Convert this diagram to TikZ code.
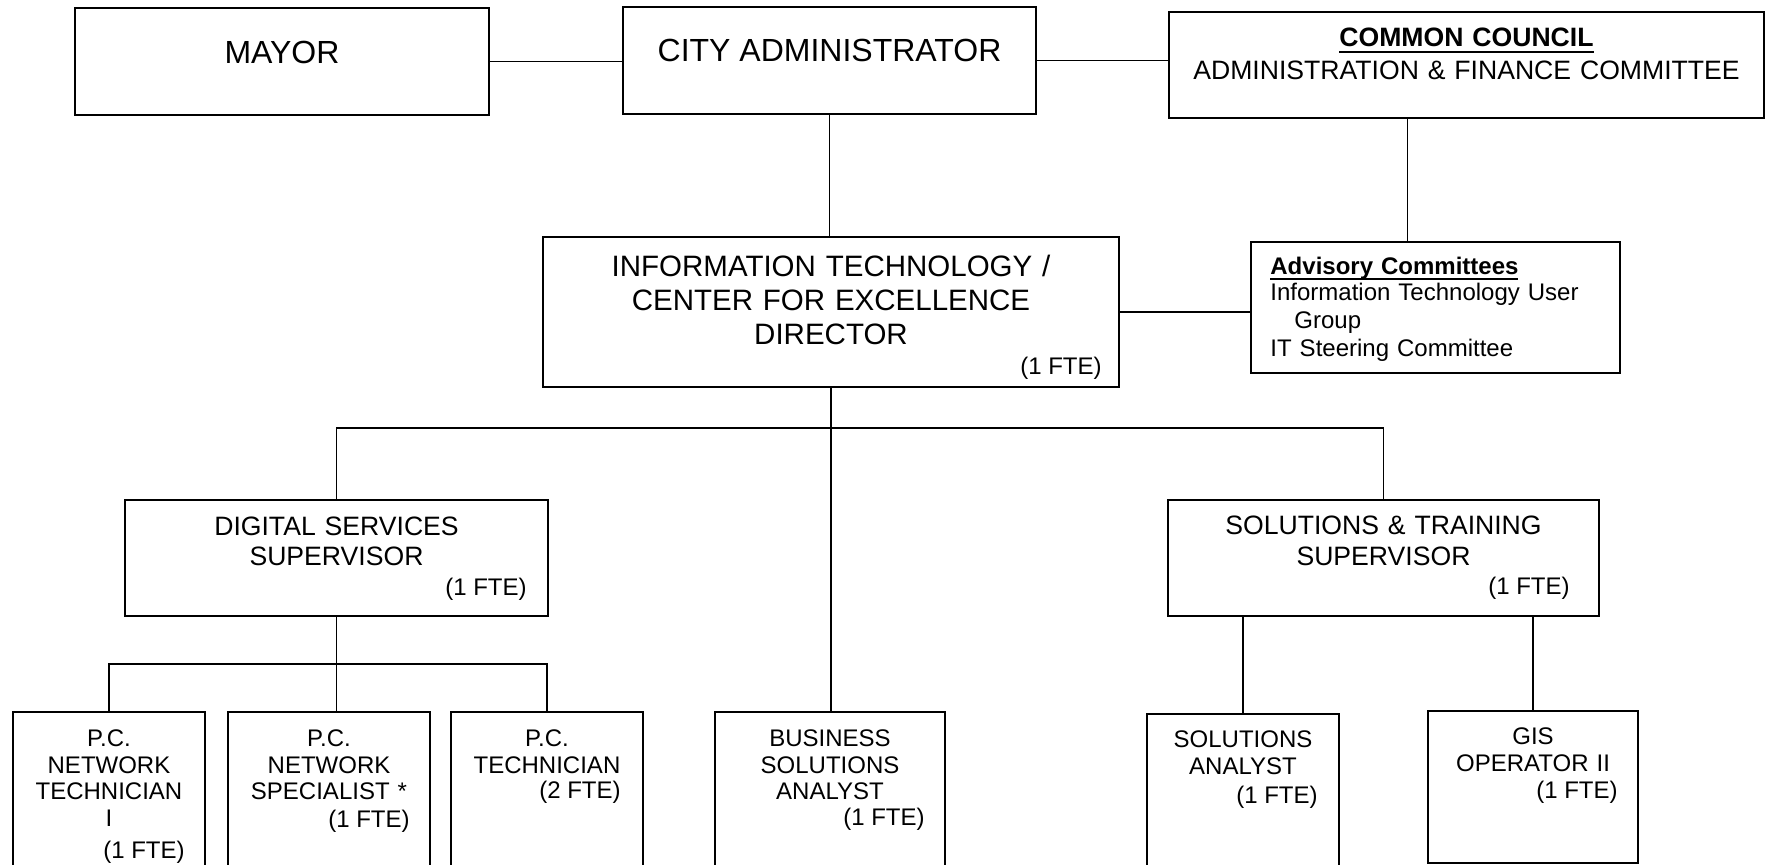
\documentclass[tikz,border=0pt]{standalone}
\usepackage{fontspec}
\setmainfont{Liberation Sans}
\usetikzlibrary{positioning}

\newcommand{\hdul}[2]{\leavevmode\setbox0\hbox{#2}\rlap{\rule[-#1]{\wd0}{1.1pt}}\box0}

\begin{document}
\begin{tikzpicture}[x=0.5pt,y=-0.5pt,
	unit/.style={draw, line width=1pt, anchor=north west, inner sep=0pt},
	link/.style={line width=0.75pt},
	title/.style={inner sep=0pt, anchor=base, align=center},
	fte/.style={inner sep=0pt, anchor=base east, font=\fontsize{12}{14}\selectfont},
	small/.style={font=\fontsize{12}{13.3}\selectfont}]

	\useasboundingbox (0,0) rectangle (1767,864);

	% top row
	\node[unit, minimum width=207pt, minimum height=53.5pt] (mayor) at (74,7) {};
	\node[unit, minimum width=206.5pt, minimum height=53.5pt] (city) at (622,6) {};
	\node[unit, minimum width=297.5pt, minimum height=53pt] (council) at (1168,11) {};

	\node[title, font=\fontsize{16}{19}\selectfont] (mayort) at ([yshift=-28pt]mayor.north) {MAYOR};
	\node[title, font=\fontsize{16}{19}\selectfont] (cityt) at ([yshift=-27.5pt]city.north) {CITY ADMINISTRATOR};
	\node[title, text width=290pt, font=\fontsize{13.3}{16.5}\selectfont] (councilt) at ([yshift=-17.5pt]council.north)
		{\hdul{3.4pt}{\bfseries COMMON COUNCIL}\\ADMINISTRATION \& FINANCE COMMITTEE};

	% director level
	\node[unit, minimum width=288pt, minimum height=75pt] (dir) at (542,236) {};
	\node[unit, minimum width=184.5pt, minimum height=65.5pt] (adv) at (1250,241) {};

	\node[title, text width=260pt, font=\fontsize{14.75}{17}\selectfont] (dirt) at ([yshift=-20.3pt]dir.north)
		{INFORMATION TECHNOLOGY /\\CENTER FOR EXCELLENCE\\DIRECTOR};
	\node[fte] (dirfte) at ([xshift=-9pt,yshift=-69pt]dir.north east) {(1 FTE)};
	\node[inner sep=0pt, anchor=base west, text width=170pt, align=left, font=\fontsize{12}{14}\selectfont] (advt)
		at ([xshift=10pt,yshift=-16.5pt]adv.north west)
		{\hdul{3.2pt}{\bfseries Advisory Committees}\\[-1pt]Information Technology User\\\hspace*{12pt}Group\\IT Steering Committee};

	% supervisors
	\node[unit, minimum width=211.5pt, minimum height=58pt] (ds) at (124,499) {};
	\node[unit, minimum width=215.5pt, minimum height=58pt] (st) at (1167,499) {};

	\node[title, text width=200pt, font=\fontsize{13.3}{15}\selectfont] (dst) at ([yshift=-18.25pt]ds.north)
		{DIGITAL SERVICES\\SUPERVISOR};
	\node[fte] (dsfte) at ([xshift=-11pt,yshift=-48.3pt]ds.north east) {(1 FTE)};
	\node[title, text width=200pt, font=\fontsize{13.3}{15.5}\selectfont] (stt) at ([yshift=-17.75pt]st.north)
		{SOLUTIONS \& TRAINING\\SUPERVISOR};
	\node[fte] (stfte) at ([xshift=-15pt,yshift=-47.8pt]st.north east) {(1 FTE)};

	% staff
	\node[unit, minimum width=96pt, minimum height=90pt] (pc1) at (12,711) {};
	\node[unit, minimum width=101pt, minimum height=90pt] (pc2) at (227,711) {};
	\node[unit, minimum width=96pt, minimum height=90pt] (pc3) at (450,711) {};
	\node[unit, minimum width=115pt, minimum height=90pt] (bsa) at (714,711) {};
	\node[unit, minimum width=96pt, minimum height=90pt] (sa) at (1146,713) {};
	\node[unit, minimum width=105pt, minimum height=76pt] (gis) at (1427,710) {};

	\node[title, small, text width=94pt] (pc1t) at ([yshift=-17.8pt]pc1.north) {P.C.\\NETWORK\\TECHNICIAN\\I};
	\node[fte] (pc1fte) at ([xshift=-10.5pt,yshift=-73.5pt]pc1.north east) {(1 FTE)};
	\node[title, small, text width=99pt] (pc2t) at ([yshift=-17.8pt]pc2.north) {P.C.\\NETWORK\\SPECIALIST *};
	\node[fte] (pc2fte) at ([xshift=-10.5pt,yshift=-58.3pt]pc2.north east) {(1 FTE)};
	\node[title, small, text width=94pt] (pc3t) at ([yshift=-17.8pt]pc3.north) {P.C.\\TECHNICIAN};
	\node[fte] (pc3fte) at ([xshift=-11.5pt,yshift=-43.8pt]pc3.north east) {(2 FTE)};
	\node[title, small, text width=110pt] (bsat) at ([yshift=-17.8pt]bsa.north) {BUSINESS\\SOLUTIONS\\ANALYST};
	\node[fte] (bsafte) at ([xshift=-10.5pt,yshift=-57.3pt]bsa.north east) {(1 FTE)};
	\node[title, small, text width=94pt] (sat) at ([yshift=-17.3pt]sa.north) {SOLUTIONS\\ANALYST};
	\node[fte] (safte) at ([xshift=-11pt,yshift=-45.3pt]sa.north east) {(1 FTE)};
	\node[title, small, text width=100pt] (gist) at ([yshift=-17.3pt]gis.north) {GIS\\OPERATOR II};
	\node[fte] (gisfte) at ([xshift=-10.5pt,yshift=-44.3pt]gis.north east) {(1 FTE)};

	% connectors
	\coordinate (split) at (830,428);
	\coordinate (dssplit) at (335,664);

	\draw[link] (mayor.east) -- (mayor.east -| city.west);
	\draw[link] (city.east) -- (city.east -| council.west);
	\draw[link] (city.south) -- (city.south |- dir.north);
	\draw[link] ([xshift=-29.5pt]council.south) -- ([xshift=-29.5pt]council.south |- adv.north);
	\draw[link] (dir.east) -- (dir.east -| adv.west);
	\draw[link] (dir.south) -- (dir.south |- bsa.north);
	\draw[link] (ds.north) |- (split) -| (st.north);
	\draw[link] (ds.south) -- (ds.south |- pc2.north);
	\draw[link] (pc1.north) |- (dssplit) -| (pc3.north);
	\draw[link] (st.south -| sa.north) -- (sa.north);
	\draw[link] (st.south -| gis.north) -- (gis.north);
\end{tikzpicture}
\end{document}
